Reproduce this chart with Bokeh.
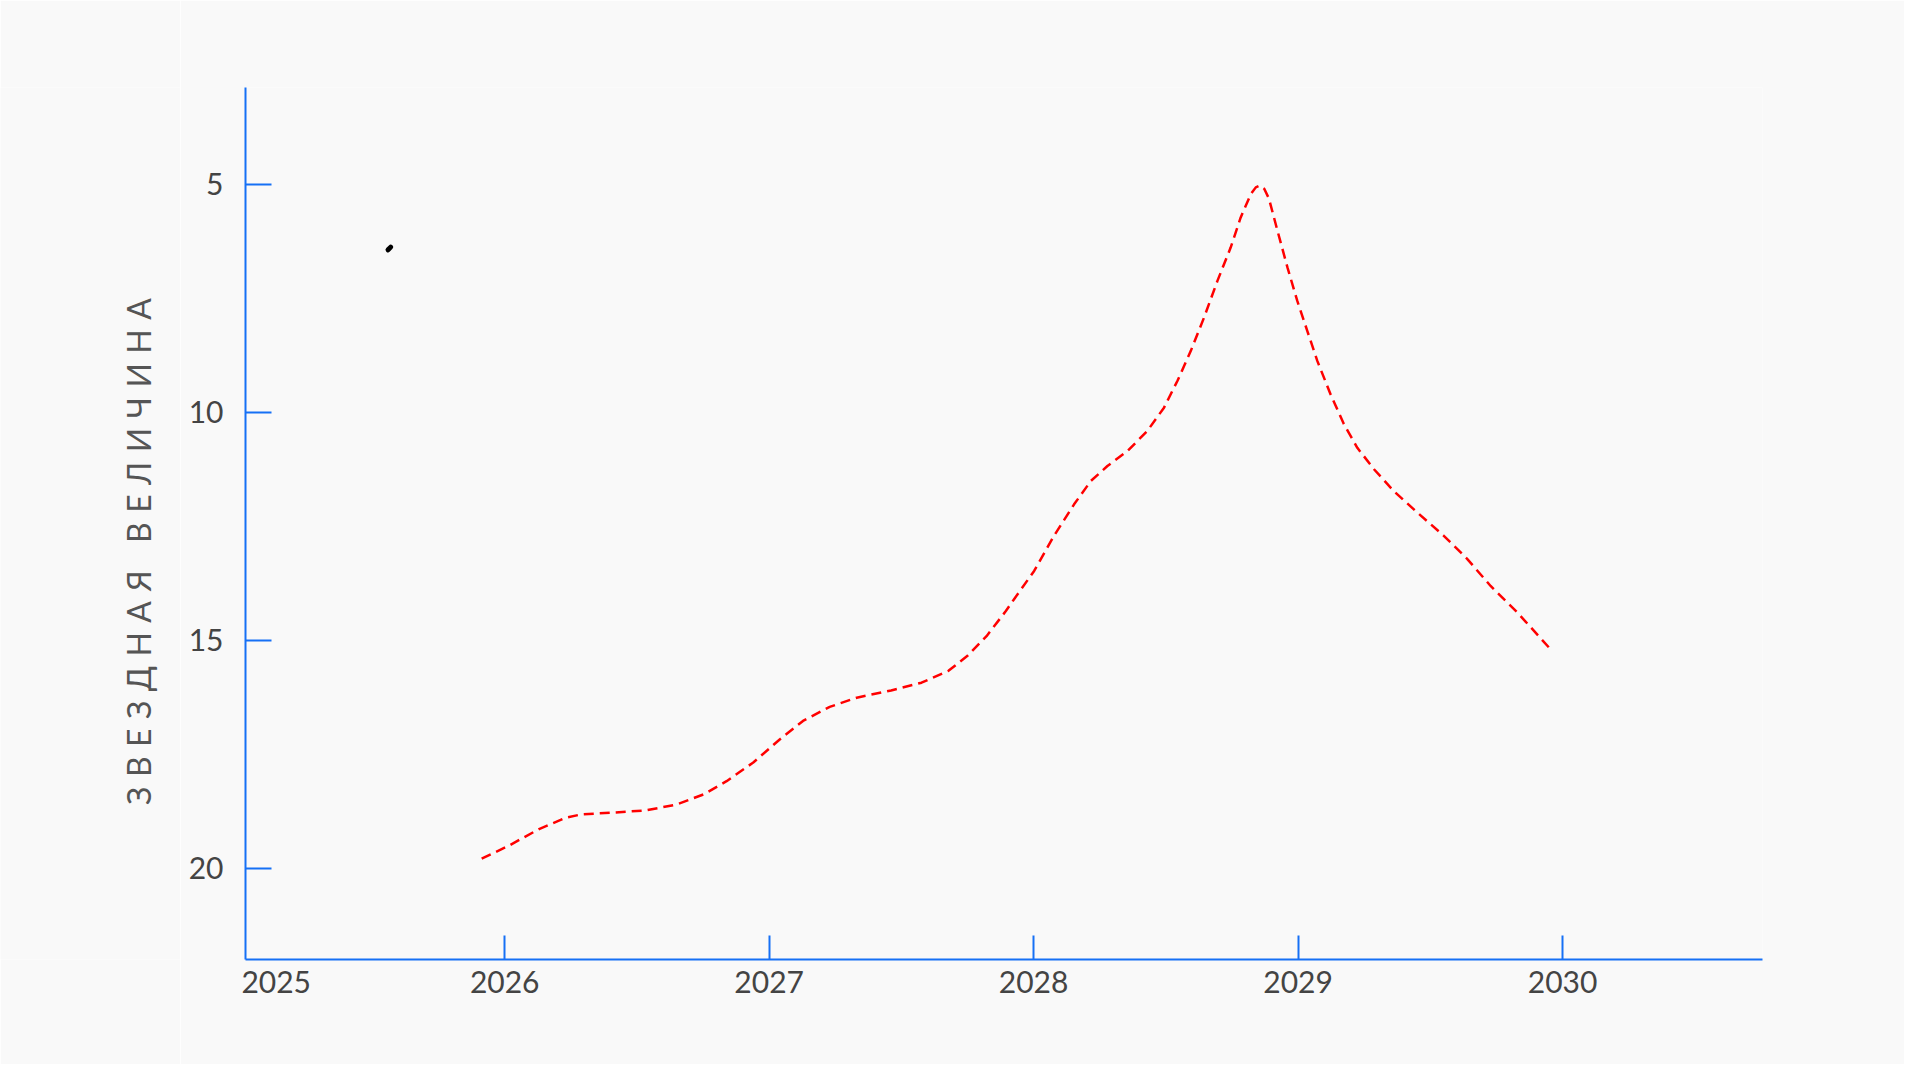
import math
from bokeh.plotting import figure
from bokeh.layouts import row
from bokeh.models import (Range1d, FixedTicker, PrintfTickFormatter, ColumnDataSource,
                          LinearAxis, InlineStyleSheet)
from bokeh.core.properties import value
from bokeh.embed import file_html
from bokeh.resources import INLINE

# --- data ---
pred_year = [2025.913, 2026.014, 2026.130, 2026.231, 2026.289, 2026.405, 2026.535, 2026.651,
             2026.752, 2026.839, 2026.940, 2027.041, 2027.128, 2027.229, 2027.331, 2027.461,
             2027.576, 2027.678, 2027.750, 2027.822, 2027.895, 2027.926, 2028.002, 2028.077,
             2028.153, 2028.216, 2028.279, 2028.355, 2028.430, 2028.493, 2028.544, 2028.594,
             2028.644, 2028.695, 2028.745, 2028.783, 2028.821, 2028.840, 2028.856, 2028.872,
             2028.890, 2028.922, 2028.960, 2028.997, 2029.035, 2029.073, 2029.123, 2029.173,
             2029.224, 2029.287, 2029.362, 2029.451, 2029.551, 2029.640, 2029.728, 2029.829,
             2029.955]
pred_mag = [19.79, 19.51, 19.14, 18.89, 18.82, 18.78, 18.73, 18.60,
            18.38, 18.09, 17.68, 17.17, 16.77, 16.46, 16.26, 16.10,
            15.93, 15.67, 15.34, 14.91, 14.36, 14.10, 13.48, 12.71,
            12.02, 11.51, 11.18, 10.85, 10.41, 9.90, 9.31, 8.66,
            7.93, 7.12, 6.39, 5.73, 5.22, 5.07, 5.03, 5.10,
            5.32, 6.02, 6.83, 7.56, 8.22, 8.88, 9.61, 10.26,
            10.78, 11.25, 11.73, 12.20, 12.71, 13.22, 13.81, 14.39,
            15.20]

obs_year = [2025.559, 2025.569]
obs_mag = [6.44, 6.38]

x_ticks = [2026, 2027, 2028, 2029, 2030]
first_year_tick = 2025.136          # "2025" label, shown left-aligned at the axis start
y_ticks = [5, 10, 15, 20]
y_label = "ЗВЕЗДНАЯ ВЕЛИЧИНА"

AXIS = "#1670f5"
BG = "#f9f9f9"
FONT = "Lato"
TICK_COLOR = "#444444"

LABEL_W = 180
TOTAL_H = 1064

# --- main plot ---
p = figure(frame_width=1517, frame_height=872,
           x_range=Range1d(2025.02, 2030.756), y_range=Range1d(22.0, 2.88),
           output_backend="svg", toolbar_location=None,
           min_border_left=245 - LABEL_W, min_border_top=87,
           min_border_right=142, min_border_bottom=105)
p.background_fill_color = BG
p.border_fill_color = BG
p.outline_line_color = None
p.grid.visible = False

pred = ColumnDataSource(dict(x=pred_year, y=pred_mag))
obs = ColumnDataSource(dict(x=obs_year, y=obs_mag))
p.line("x", "y", source=pred, line_color="red", line_width=2.5, line_dash="10 6")
p.line("x", "y", source=obs, line_color="black", line_width=5, line_cap="round")

for ax in (p.xaxis[0], p.yaxis[0]):
    ax.axis_line_color = AXIS
    ax.axis_line_width = 2
    ax.major_tick_line_color = AXIS
    ax.major_tick_line_width = 2
    ax.minor_tick_line_color = None
    ax.major_tick_out = 0
    ax.major_label_text_font = FONT
    ax.major_label_text_font_size = "30px"
    ax.major_label_text_color = TICK_COLOR

# main x axis: labels (incl. 2025) but no tick marks
p.xaxis.ticker = FixedTicker(ticks=[first_year_tick] + x_ticks)
p.xaxis.formatter = PrintfTickFormatter(format="%d")
p.xaxis.major_tick_line_color = None
p.xaxis.major_tick_in = 0
p.xaxis.major_label_standoff = 11

# tick marks for the yearly ticks, drawn by an axis fixed at the bottom of the frame
ax_ticks = LinearAxis(fixed_location=22.0, ticker=FixedTicker(ticks=x_ticks),
                      formatter=PrintfTickFormatter(format="%d"))
ax_ticks.axis_line_color = None
ax_ticks.major_tick_line_color = AXIS
ax_ticks.major_tick_line_width = 2
ax_ticks.major_tick_in = 24
ax_ticks.major_tick_out = 0
ax_ticks.minor_tick_line_color = None
ax_ticks.major_label_text_color = None
ax_ticks.major_label_text_font_size = "1px"
p.add_layout(ax_ticks, "below")

p.yaxis.ticker = FixedTicker(ticks=y_ticks)
p.yaxis.formatter = PrintfTickFormatter(format="%d")
p.yaxis.major_tick_in = 26
p.yaxis.major_label_standoff = 22

# --- y-axis title panel (letter-spaced) ---
lp = figure(width=LABEL_W, height=TOTAL_H, x_range=Range1d(0, LABEL_W), y_range=Range1d(0, TOTAL_H),
            output_backend="svg", toolbar_location=None, min_border=0)
lp.axis.visible = False
lp.grid.visible = False
lp.outline_line_color = None
lp.background_fill_color = BG
lp.border_fill_color = BG
lp.stylesheets = [InlineStyleSheet(css=":host { letter-spacing: 9.5px; }")]
lp.text(x=[138], y=[TOTAL_H - 659], text=[y_label], angle=math.pi / 2,
        text_align="center", text_baseline="middle",
        text_font=value(FONT), text_font_size="32px", text_color="#555555")

layout = row(lp, p)
open("out.html", "w").write(file_html(layout, INLINE))
